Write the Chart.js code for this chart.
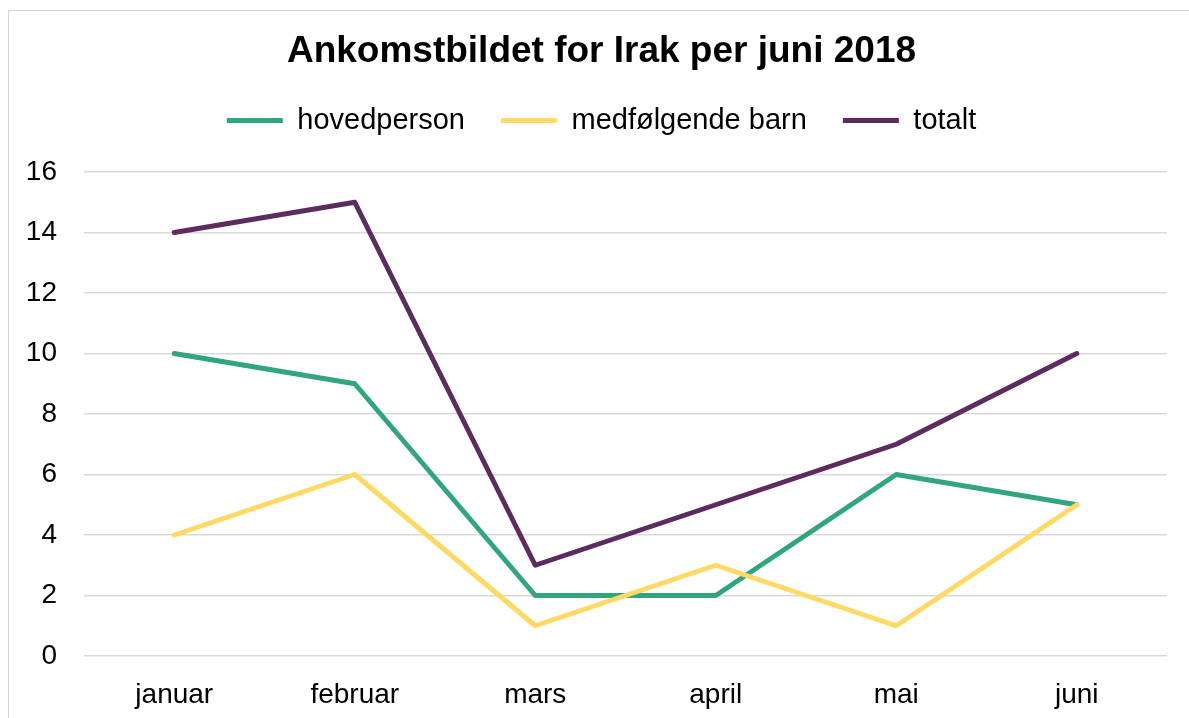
<!DOCTYPE html>
<html>
<head>
<meta charset="utf-8">
<script src="https://cdn.jsdelivr.net/npm/chart.js@4"></script>
<style>
    html, body { margin: 0; padding: 0; background: #fff; overflow: hidden; }
    #ramme {
        position: absolute; left: 8px; top: 10px; width: 1300px; height: 800px;
        border-left: 1px solid #d4d4d4; border-top: 1px solid #d4d4d4;
    }
    #graf { position: absolute; left: 0; top: 0; }
</style>
</head>
<body>
<div id="ramme"></div>
<canvas id="graf" width="1189" height="718"></canvas>
<script>
// data lest av bildet
const maaneder = ["januar", "februar", "mars", "april", "mai", "juni"];
const hovedperson = [10, 9, 2, 2, 6, 5];
const medfolgendeBarn = [4, 6, 1, 3, 1, 5];
const totalt = [14, 15, 3, 5, 7, 10];
const yTicks = [0, 2, 4, 6, 8, 10, 12, 14, 16];

const skrift = "'Liberation Sans', Arial, sans-serif";

function serie(label, data, farge, rekkefolge) {
    return {
        label: label,
        data: data,
        borderColor: farge,
        backgroundColor: farge,
        borderWidth: 5,
        borderCapStyle: "round",
        borderJoinStyle: "round",
        pointRadius: 0,
        pointHoverRadius: 0,
        tension: 0,
        fill: false,
        order: rekkefolge,
    };
}

// legg luft under forklaringen og flytt tittel/forklaring litt mot høyre
const justering = {
    id: "justering",
    beforeLayout(chart) {
        const lg = chart.legend;
        if (lg && !lg._justert) {
            const fit = lg.fit;
            lg.fit = function () {
                fit.call(this);
                this.height = 102;
            };
            lg._justert = true;
        }
    },
    afterLayout(chart) {
        chart.titleBlock.left += 10;
        chart.legend.left += 10;
    },
};

const ctx = document.getElementById("graf").getContext("2d");
new Chart(ctx, {
    type: "line",
    data: {
        labels: maaneder,
        datasets: [
            serie("hovedperson", hovedperson, "#31a57b", 3),
            serie("medfølgende barn", medfolgendeBarn, "#ffd966", 2),
            serie("totalt", totalt, "#5d2c5f", 1),
        ],
    },
    plugins: [justering],
    options: {
        responsive: false,
        animation: false,
        layout: { padding: { left: 26, right: 22, top: 0, bottom: 0 } },
        plugins: {
            tooltip: { enabled: false },
            title: {
                display: true,
                text: "Ankomstbildet for Irak per juni 2018",
                color: "#000",
                font: { family: skrift, size: 37, weight: "bold", lineHeight: 1 },
                padding: { top: 33, bottom: 0 },
            },
            legend: {
                display: true,
                labels: {
                    usePointStyle: true,
                    pointStyle: "line",
                    pointStyleWidth: 56,
                    padding: 36,
                    color: "#000",
                    font: { family: skrift, size: 29 },
                    sort: (a, b) => a.datasetIndex - b.datasetIndex,
                },
            },
        },
        scales: {
            x: {
                offset: true,
                grid: { display: false },
                border: { display: false },
                ticks: {
                    color: "#000",
                    font: { family: skrift, size: 28 },
                    padding: 14,
                    maxRotation: 0,
                },
                afterFit: (s) => { s.height = 62; },
            },
            y: {
                min: 0,
                max: 16,
                grid: { color: "#d9d9d9", lineWidth: 1.5, drawTicks: false },
                border: { display: false },
                afterBuildTicks: (s) => { s.ticks = yTicks.map((v) => ({ value: v })); },
                ticks: {
                    color: "#000",
                    font: { family: skrift, size: 28 },
                    padding: 27,
                },
                afterFit: (s) => { s.width = 58; },
            },
        },
    },
});
</script>
</body>
</html>
